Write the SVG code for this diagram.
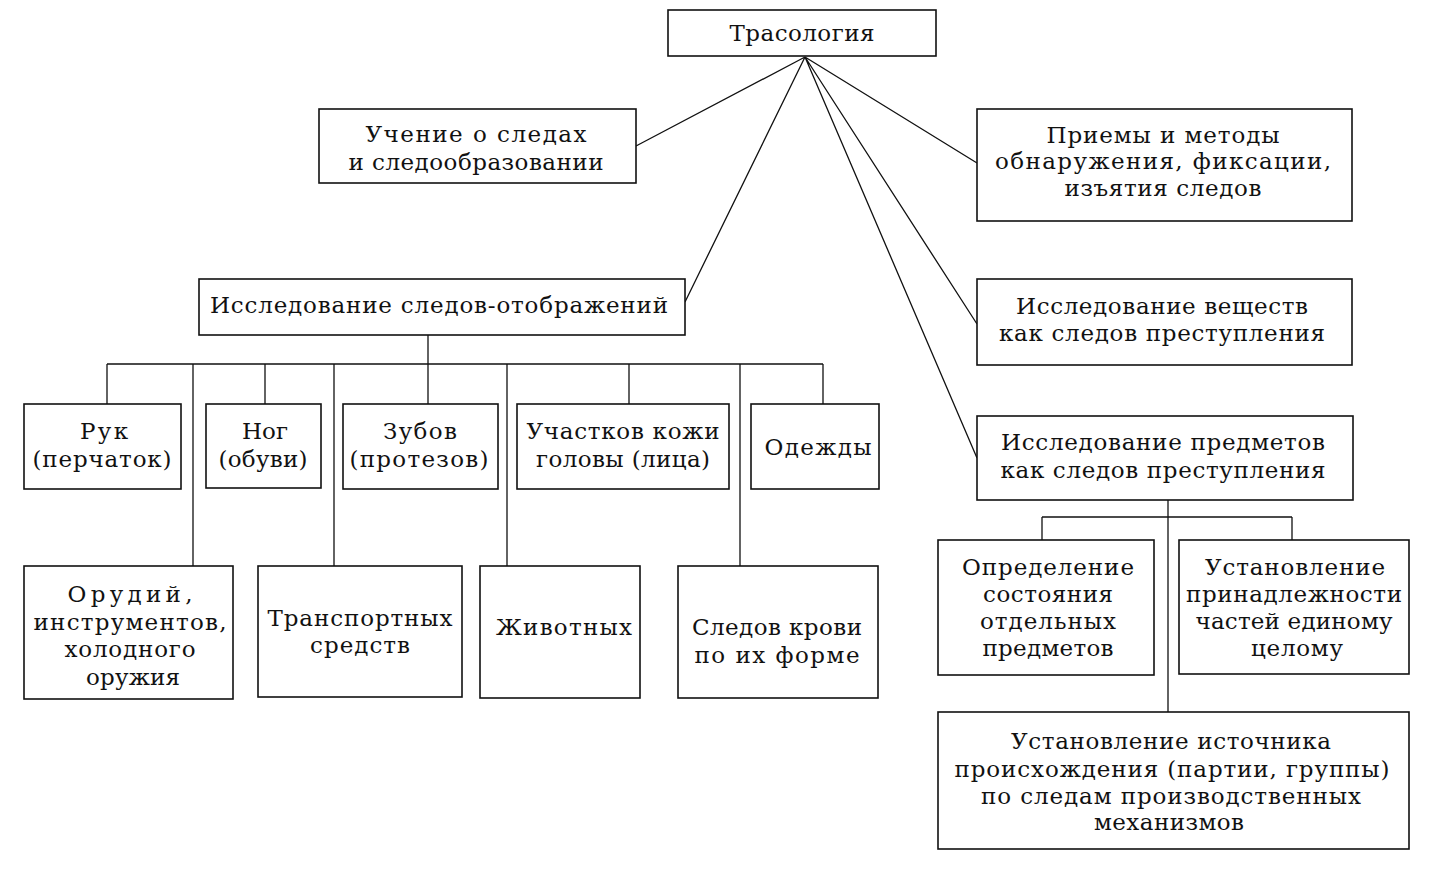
<svg xmlns="http://www.w3.org/2000/svg" width="1430" height="872" viewBox="0 0 1430 872">
<style>
.box{fill:#fff;stroke:#111;stroke-width:1.6}
.t{font-family:"DejaVu Serif","Liberation Serif",serif;font-size:23px;text-anchor:middle;fill:#111}
.c{stroke:#111;stroke-width:1.3;fill:none}
</style>
<rect width="1430" height="872" fill="#fff"/>
<g id="connectors">
<path class="c" d="M805,57 L636,146 M805,57 L685,302 M805,57 L977,163 M805,57 L977,324 M805,57 L977,458"/>
<path class="c" d="M428,335 V364 M107,364 H823 M107,364 V404 M193,364 V566 M265,364 V404 M334,364 V566 M428,364 V404 M507,364 V566 M629,364 V404 M740,364 V566 M823,364 V404"/>
<path class="c" d="M1168,500 V712 M1042,517 H1292 M1042,517 V540 M1292,517 V540"/>
</g>
<g id="n-trasologia"><rect class="box" x="668" y="10" width="268" height="46"/><text class="t" x="802" y="41" textLength="145" lengthAdjust="spacing">Трасология</text></g>
<g id="n-uchenie"><rect class="box" x="319" y="109" width="317" height="74"/>
<text class="t" x="476" y="142" textLength="221" lengthAdjust="spacing">Учение о следах</text>
<text class="t" x="476" y="170" textLength="255" lengthAdjust="spacing">и следообразовании</text></g>
<g id="n-priemy"><rect class="box" x="977" y="109" width="375" height="112"/>
<text class="t" x="1163" y="143" textLength="233" lengthAdjust="spacing">Приемы и методы</text>
<text class="t" x="1163" y="169" textLength="336" lengthAdjust="spacing">обнаружения, фиксации,</text>
<text class="t" x="1163" y="196" textLength="197" lengthAdjust="spacing">изъятия следов</text></g>
<g id="n-otobr"><rect class="box" x="199" y="279" width="486" height="56"/>
<text class="t" x="439" y="313" textLength="458" lengthAdjust="spacing">Исследование следов-отображений</text></g>
<g id="n-veschestv"><rect class="box" x="977" y="279" width="375" height="86"/>
<text class="t" x="1162" y="314" textLength="292" lengthAdjust="spacing">Исследование веществ</text>
<text class="t" x="1162" y="341" textLength="326" lengthAdjust="spacing">как следов преступления</text></g>
<g id="n-predmetov"><rect class="box" x="977" y="416" width="376" height="84"/>
<text class="t" x="1163" y="450" textLength="324" lengthAdjust="spacing">Исследование предметов</text>
<text class="t" x="1163" y="478" textLength="325" lengthAdjust="spacing">как следов преступления</text></g>
<g id="n-ruk"><rect class="box" x="24" y="404" width="157" height="85"/>
<text class="t" x="104" y="439" textLength="48" lengthAdjust="spacing">Рук</text>
<text class="t" x="102" y="467" textLength="139" lengthAdjust="spacing">(перчаток)</text></g>
<g id="n-nog"><rect class="box" x="206" y="404" width="115" height="84"/>
<text class="t" x="265" y="439" textLength="46" lengthAdjust="spacing">Ног</text>
<text class="t" x="263" y="467" textLength="89" lengthAdjust="spacing">(обуви)</text></g>
<g id="n-zubov"><rect class="box" x="343" y="404" width="155" height="85"/>
<text class="t" x="420" y="439" textLength="74" lengthAdjust="spacing">Зубов</text>
<text class="t" x="419" y="467" textLength="139" lengthAdjust="spacing">(протезов)</text></g>
<g id="n-kozhi"><rect class="box" x="517" y="404" width="212" height="85"/>
<text class="t" x="623" y="439" textLength="193" lengthAdjust="spacing">Участков кожи</text>
<text class="t" x="623" y="467" textLength="174" lengthAdjust="spacing">головы (лица)</text></g>
<g id="n-odezhdy"><rect class="box" x="751" y="404" width="128" height="85"/>
<text class="t" x="818" y="455" textLength="107" lengthAdjust="spacing">Одежды</text></g>
<g id="n-orudiy"><rect class="box" x="24" y="566" width="209" height="133"/>
<text class="t" x="130" y="602" textLength="125" lengthAdjust="spacing">Орудий,</text>
<text class="t" x="130" y="630" textLength="193" lengthAdjust="spacing">инструментов,</text>
<text class="t" x="130" y="657" textLength="131" lengthAdjust="spacing">холодного</text>
<text class="t" x="133" y="685" textLength="94" lengthAdjust="spacing">оружия</text></g>
<g id="n-transport"><rect class="box" x="258" y="566" width="204" height="131"/>
<text class="t" x="360" y="626" textLength="185" lengthAdjust="spacing">Транспортных</text>
<text class="t" x="360" y="653" textLength="100" lengthAdjust="spacing">средств</text></g>
<g id="n-zhivotnyh"><rect class="box" x="480" y="566" width="160" height="132"/>
<text class="t" x="564" y="635" textLength="136" lengthAdjust="spacing">Животных</text></g>
<g id="n-krovi"><rect class="box" x="678" y="566" width="200" height="132"/>
<text class="t" x="777" y="635" textLength="170" lengthAdjust="spacing">Следов крови</text>
<text class="t" x="777" y="663" textLength="165" lengthAdjust="spacing">по их форме</text></g>
<g id="n-opredelenie"><rect class="box" x="938" y="540" width="216" height="135"/>
<text class="t" x="1048" y="575" textLength="172" lengthAdjust="spacing">Определение</text>
<text class="t" x="1048" y="602" textLength="130" lengthAdjust="spacing">состояния</text>
<text class="t" x="1048" y="629" textLength="136" lengthAdjust="spacing">отдельных</text>
<text class="t" x="1048" y="656" textLength="131" lengthAdjust="spacing">предметов</text></g>
<g id="n-prinadl"><rect class="box" x="1179" y="540" width="230" height="134"/>
<text class="t" x="1295" y="575" textLength="180" lengthAdjust="spacing">Установление</text>
<text class="t" x="1294" y="602" textLength="216" lengthAdjust="spacing">принадлежности</text>
<text class="t" x="1294" y="629" textLength="197" lengthAdjust="spacing">частей единому</text>
<text class="t" x="1297" y="656" textLength="92" lengthAdjust="spacing">целому</text></g>
<g id="n-istochnik"><rect class="box" x="938" y="712" width="471" height="137"/>
<text class="t" x="1171" y="749" textLength="320" lengthAdjust="spacing">Установление источника</text>
<text class="t" x="1172" y="777" textLength="435" lengthAdjust="spacing">происхождения (партии, группы)</text>
<text class="t" x="1171" y="804" textLength="380" lengthAdjust="spacing">по следам производственных</text>
<text class="t" x="1169" y="830" textLength="150" lengthAdjust="spacing">механизмов</text></g>
</svg>
